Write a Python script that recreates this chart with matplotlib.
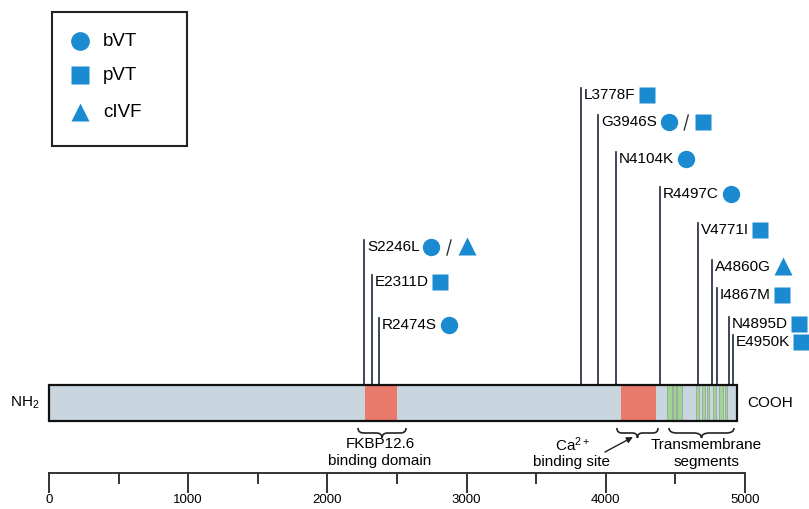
import matplotlib
matplotlib.use("Agg")
import matplotlib.pyplot as plt
from matplotlib.path import Path
from matplotlib.patches import PathPatch, Rectangle

plt.rcParams['font.family'] = ['Liberation Sans', 'DejaVu Sans']
plt.rcParams['mathtext.fontset'] = 'custom'
plt.rcParams['mathtext.rm'] = 'Liberation Sans'

# mutations and where their stems meet the protein (residue scale)
mutations = ["S2246L", "E2311D", "R2474S", "L3778F", "G3946S", "N4104K",
             "R4497C", "V4771I", "A4860G", "I4867M", "N4895D", "E4950K"]
stem_pos = [2263, 2320, 2371, 3822, 3944, 4073, 4389, 4662, 4763, 4799, 4885, 4914]
phenotypes = [["bVT", "cIVF"], ["pVT"], ["bVT"], ["pVT"], ["bVT", "pVT"], ["bVT"],
              ["bVT"], ["pVT"], ["cIVF"], ["pVT"], ["pVT"], ["pVT"]]
stem_top = [240, 275, 318, 88, 115, 152, 187, 223, 260, 288, 317, 335]  # pixel rows

protein_end = 4943
fkbp_domain = (2270, 2500)
ca_site = (4109, 4361)
tm_stripes = [(4443, 4472), (4480, 4504), (4511, 4547), (4648, 4670), (4691, 4713),
              (4727, 4742), (4770, 4792), (4813, 4842), (4856, 4871)]

major_ticks = [0, 1000, 2000, 3000, 4000, 5000]
minor_ticks = [500, 1500, 2500, 3500, 4500]

blue = "#1a8bd0"
stem_col = "#1c2838"
markers = {"bVT": ("o", 12.5), "pVT": ("s", 11.5), "cIVF": ("^", 12.5)}

fig = plt.figure(figsize=(8.09, 5.09), dpi=100)
ax = fig.add_axes([0, 0, 1, 1])
u = 5000 / 696.0          # residues per pixel
ax.set_xlim(-49 * u, 760 * u)
ax.set_ylim(509, 0)
ax.axis('off')

# protein bar
bar_top, bar_bot = 385, 421
ax.add_patch(Rectangle((0, bar_top), protein_end, bar_bot - bar_top,
                       facecolor="#c9d6e0", edgecolor="none", zorder=2))
for a, b in [fkbp_domain, ca_site]:
    ax.add_patch(Rectangle((a, bar_top), b - a, bar_bot - bar_top,
                           facecolor="#e97a6b", edgecolor="none", zorder=3))
for a, b in tm_stripes:
    ax.add_patch(Rectangle((a, bar_top), b - a, bar_bot - bar_top,
                           facecolor="#9fd492", edgecolor="#93a898", lw=0.6, zorder=3))
ax.add_patch(Rectangle((0, bar_top), protein_end, bar_bot - bar_top,
                       facecolor="none", edgecolor="#111111", lw=1.6, zorder=4))

ax.text(-65, 403, r"NH$\mathregular{_2}$", fontsize=11, ha="right", va="center")
ax.text(protein_end + 10 * u, 403, "COOH", fontsize=11, ha="left", va="center")

# stems and labels
texts = []
for name, pos, top in zip(mutations, stem_pos, stem_top):
    ax.plot([pos, pos], [top, bar_top], color=stem_col, lw=1.2, zorder=1)
    t = ax.text(pos + 3 * u, top + 7, name, fontsize=11, ha="left", va="center")
    texts.append(t)

fig.canvas.draw()
rend = fig.canvas.get_renderer()
inv = ax.transData.inverted()
for t, phen, top in zip(texts, phenotypes, stem_top):
    bb = t.get_window_extent(rend)
    cursor = inv.transform((bb.x1, bb.y0))[0] + 3 * u
    y = top + 7
    for i, p in enumerate(phen):
        m, ms = markers[p]
        half = ms * 100 / 72 / 2 * u
        ax.plot(cursor + half, y + (-1 if m == "^" else 0), marker=m, ms=ms, color=blue,
                mec="none", zorder=5)
        cursor += 2 * half
        if i < len(phen) - 1:
            ax.plot([cursor + 7 * u, cursor + 11 * u], [y + 8, y - 7], color="#333333", lw=1.0)
            cursor += 18 * u

# legend
ax.add_patch(Rectangle((3 * u, 12), 135 * u, 134, facecolor="white",
                       edgecolor="#222222", lw=1.5, zorder=6))
for (lab, yy) in zip(["bVT", "pVT", "cIVF"], [41, 75, 112]):
    m, ms = markers[lab]
    ax.plot(31 * u, yy, marker=m, ms=ms + 1, color=blue, mec="none", zorder=7)
    ax.text(54 * u, yy, lab, fontsize=13.5, ha="left", va="center", zorder=7)


def brace(x0, x1, y0, d):
    xm = (x0 + x1) / 2
    q = (x1 - x0) * 0.12
    h = y0 + d / 2
    verts = [(x0, y0), (x0, h), (x0 + q, h), (x0 + q, h),
             (xm - q, h), (xm, h), (xm, y0 + d),
             (xm, h), (xm + q, h), (xm + q, h),
             (x1 - q, h), (x1, h), (x1, y0)]
    codes = [Path.MOVETO, Path.CURVE3, Path.CURVE3, Path.LINETO,
             Path.LINETO, Path.CURVE3, Path.CURVE3,
             Path.CURVE3, Path.CURVE3, Path.LINETO,
             Path.LINETO, Path.CURVE3, Path.CURVE3]
    ax.add_patch(PathPatch(Path(verts, codes), facecolor="none",
                           edgecolor="#222222", lw=1.2))


brace(2220, 2565, 428, 10)
brace(4080, 4375, 428, 10)
brace(4454, 4921, 428, 10)

ax.text(2378, 444, "FKBP12.6", fontsize=11, ha="center", va="center")
ax.text(2378, 461, "binding domain", fontsize=11, ha="center", va="center")
ax.text(3764, 445, r"Ca$\mathregular{^{2+}}$", fontsize=11, ha="center", va="center")
ax.text(3757, 462, "binding site", fontsize=11, ha="center", va="center")
ax.annotate("", xy=(4195, 437), xytext=(3994, 452),
            arrowprops=dict(arrowstyle="-|>", color="#222222", lw=1.0,
                            mutation_scale=9, shrinkA=0, shrinkB=0))
ax.text(4720, 445, "Transmembrane", fontsize=11, ha="center", va="center")
ax.text(4720, 462, "segments", fontsize=11, ha="center", va="center")

# residue scale
ax.plot([0, 5000], [473, 473], color="#333333", lw=1.4)
for tk in major_ticks:
    ax.plot([tk, tk], [473, 492], color="#333333", lw=1.4)
    ax.text(tk, 494, str(tk), fontsize=9.5, ha="center", va="top")
for tk in minor_ticks:
    ax.plot([tk, tk], [473, 483], color="#333333", lw=1.4)

fig.savefig("out.png", dpi=100)
